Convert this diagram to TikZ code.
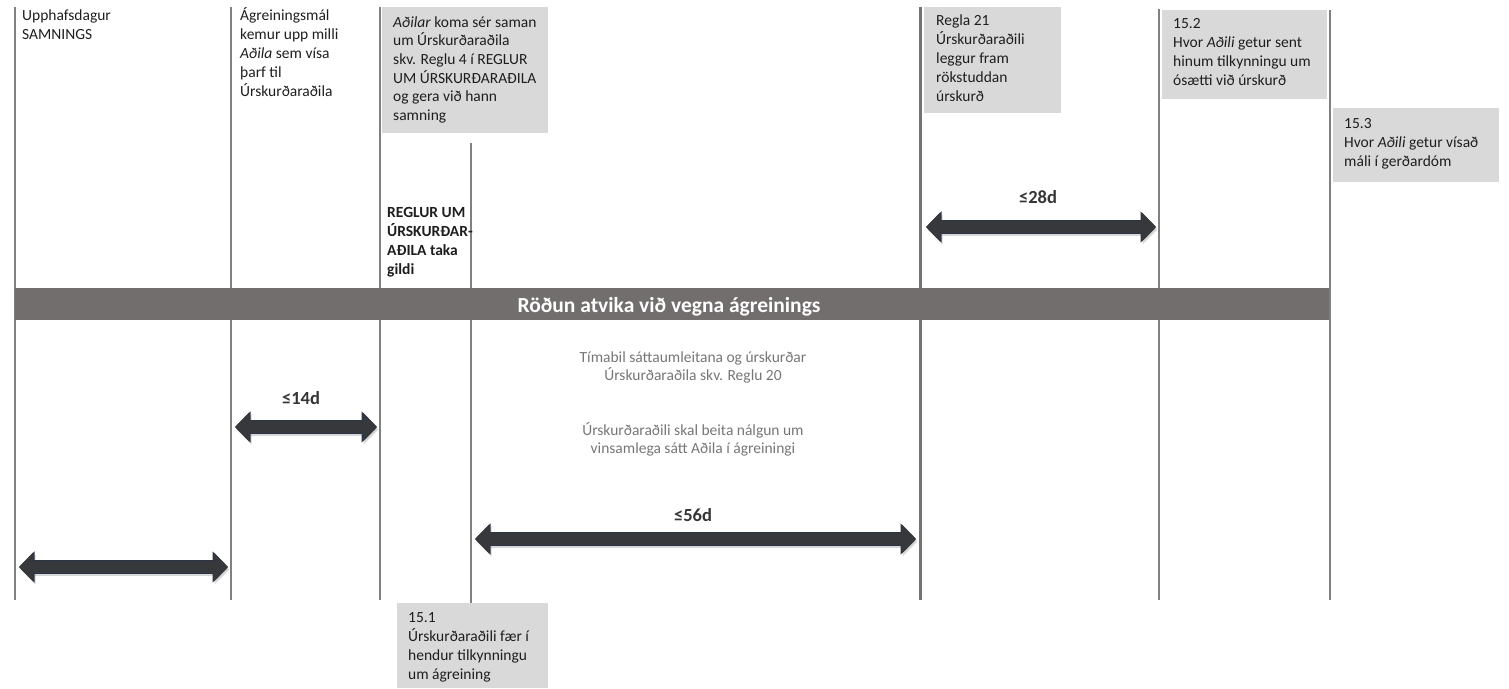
\documentclass[tikz,border=0pt]{standalone}
\usepackage{fontspec}
\setmainfont{Carlito}
\usetikzlibrary{arrows.meta}
\definecolor{linegray}{RGB}{128,128,128}
\definecolor{boxgray}{RGB}{217,217,217}
\definecolor{bannergray}{RGB}{114,110,110}
\definecolor{textdark}{RGB}{30,30,30}
\definecolor{midgray}{RGB}{118,118,118}
\definecolor{arrowfill}{RGB}{54,56,60}
\definecolor{arrowedge}{RGB}{42,54,72}
\begin{document}
\begin{tikzpicture}[x=1pt,y=-1pt,
  vline/.style={draw=linegray, line width=2.2pt},
  vlinethick/.style={draw=linegray!90!black, line width=3pt},
  graybox/.style={fill=boxgray, draw=none, anchor=north west, inner sep=0pt},
  txt/.style={anchor=base west, align=left, inner sep=0pt, text=textdark, font=\fontsize{15.5}{19}\selectfont},
  boldtxt/.style={txt, font=\bfseries\fontsize{15.5}{19}\selectfont},
  midtxt/.style={anchor=base, align=center, inner sep=0pt, text=midgray, font=\fontsize{15.5}{18.5}\selectfont},
  lbl/.style={anchor=base, inner sep=0pt, text=textdark!90!white, font=\bfseries\fontsize{18.5}{20}\selectfont},
  arrowedgestyle/.style={line width=13.2pt, draw=arrowedge, {Triangle[width=30.5pt,length=15.5pt]}-{Triangle[width=30.5pt,length=15.5pt]}},
  bigarrow/.style={line width=11.6pt, draw=arrowfill, {Triangle[width=28pt,length=14pt]}-{Triangle[width=28pt,length=14pt]}},
  arrowshadow/.style={line width=12pt, draw=black!45, opacity=0.35, {Triangle[width=29pt,length=15pt]}-{Triangle[width=29pt,length=15pt]}, transform canvas={shift={(1.5,2.5)}}}
]
\useasboundingbox (0,0) rectangle (1509,688);

% vertical lines
\coordinate (l1t) at (15,7);    \coordinate (l1b) at (15,600);
\coordinate (l2t) at (231,7);   \coordinate (l2b) at (231,600);
\coordinate (l3t) at (380,7);   \coordinate (l3b) at (380,600);
\coordinate (l4t) at (471,143); \coordinate (l4b) at (471,603);
\coordinate (l5t) at (920,7);   \coordinate (l5b) at (920,600);
\coordinate (l6t) at (1159,9);  \coordinate (l6b) at (1159,600);
\coordinate (l7t) at (1330,10); \coordinate (l7b) at (1330,600);
\draw[vline] (l1t) -- (l1b);
\draw[vline] (l2t) -- (l2b);
\draw[vline] (l3t) -- (l3b);
\draw[vline] (l4t) -- (l4b);
\draw[vlinethick] (l5t) -- (l5b);
\draw[vline] (l6t) -- (l6b);
\draw[vline] (l7t) -- (l7b);

% banner
\node[fill=bannergray, draw=none, anchor=north west, inner sep=0pt, minimum width=1314pt, minimum height=32pt] (banner) at (15,288) {};
\node[anchor=base, inner sep=0pt, text=white, font=\bfseries\fontsize{21.5}{24}\selectfont] (bannertxt) at (669,312) {Röðun atvika við vegna ágreinings};

% gray boxes
\node[graybox, minimum width=166pt, minimum height=126pt] (boxA) at (382,7) {};
\node[graybox, minimum width=137pt, minimum height=106pt] (box21) at (924,7) {};
\node[graybox, minimum width=165pt, minimum height=89pt] (box152) at (1162,10) {};
\node[graybox, minimum width=166pt, minimum height=74pt] (box153) at (1333,108) {};
\node[graybox, minimum width=151pt, minimum height=85pt] (box151) at (397,603) {};

% texts (anchored at the baseline of their last line)
\node[txt] (t1) at (22,39) {Upphafsdagur\\SAMNINGS};
\node[txt] (t2) at (240,96) {Ágreiningsmál\\kemur upp milli\\\textit{Aðila} sem vísa\\þarf til\\Úrskurðaraðila};
\node[txt, font=\fontsize{15.5}{18.7}\selectfont] (tA) at (393,120.5) {\textit{Aðilar} koma sér saman\\um Úrskurðaraðila\\skv. Reglu 4 í REGLUR\\UM ÚRSKURÐARAÐILA\\og gera við hann\\samning};
\node[boldtxt] (tR) at (387,274) {REGLUR UM\\ÚRSKURÐAR-\\AÐILA taka\\gildi};
\node[txt] (t21) at (936,101) {Regla 21\\Úrskurðaraðili\\leggur fram\\rökstuddan\\úrskurð};
\node[txt] (t152) at (1173,85) {15.2\\Hvor \textit{Aðili} getur sent\\hinum tilkynningu um\\ósætti við úrskurð};
\node[txt] (t153) at (1344,166) {15.3\\Hvor \textit{Aðili} getur vísað\\máli í gerðardóm};
\node[txt, font=\fontsize{15.5}{18.9}\selectfont] (t151) at (408,679) {15.1\\Úrskurðaraðili fær í\\hendur tilkynningu\\um ágreining};
\node[midtxt] (mid1) at (693,380.5) {Tímabil sáttaumleitana og úrskurðar\\Úrskurðaraðila skv. Reglu 20};
\node[midtxt] (mid2) at (693,453.5) {Úrskurðaraðili skal beita nálgun um\\vinsamlega sátt Aðila í ágreiningi};

% duration labels
\node[lbl] (d28) at (1038,203) {≤28d};
\node[lbl] (d14) at (301,404) {≤14d};
\node[lbl] (d56) at (693,521) {≤56d};

% double arrows
\coordinate (a28l) at (926,227);  \coordinate (a28r) at (1156,227);
\coordinate (a14l) at (235,427);  \coordinate (a14r) at (377,427);
\coordinate (a0l)  at (19,567);   \coordinate (a0r)  at (228,567);
\coordinate (a56l) at (475,539);  \coordinate (a56r) at (916,539);
\draw[arrowshadow] (a28l) -- (a28r);
\draw[arrowshadow] (a14l) -- (a14r);
\draw[arrowshadow] (a0l) -- (a0r);
\draw[arrowshadow] (a56l) -- (a56r);
\draw[arrowedgestyle] (a28l) -- (a28r);
\draw[arrowedgestyle] (a14l) -- (a14r);
\draw[arrowedgestyle] (a0l) -- (a0r);
\draw[arrowedgestyle] (a56l) -- (a56r);
\draw[bigarrow] (a28l) -- (a28r);
\draw[bigarrow] (a14l) -- (a14r);
\draw[bigarrow] (a0l) -- (a0r);
\draw[bigarrow] (a56l) -- (a56r);
\end{tikzpicture}
\end{document}
